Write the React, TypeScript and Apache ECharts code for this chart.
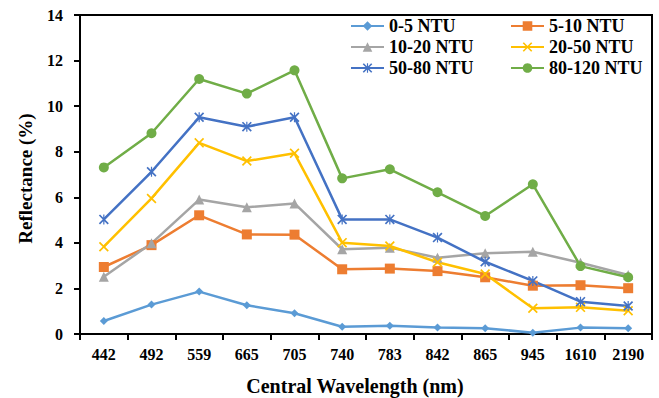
import React, { useEffect, useRef } from "react";
import * as echarts from "echarts";

// Central wavelengths of the bands (nm)
const wavelengths = ["442", "492", "559", "665", "705", "740", "783", "842", "865", "945", "1610", "2190"];

// Reflectance (%) per turbidity class
const ntu0to5 = [0.57, 1.29, 1.86, 1.26, 0.91, 0.32, 0.36, 0.28, 0.25, 0.06, 0.28, 0.25];
const ntu5to10 = [2.94, 3.9, 5.21, 4.37, 4.36, 2.84, 2.87, 2.76, 2.49, 2.12, 2.14, 2.01];
const ntu10to20 = [2.51, 3.98, 5.9, 5.56, 5.73, 3.72, 3.79, 3.35, 3.54, 3.61, 3.13, 2.59];
const ntu20to50 = [3.83, 5.95, 8.39, 7.59, 7.93, 4.01, 3.86, 3.15, 2.63, 1.13, 1.17, 1.02];
const ntu50to80 = [5.03, 7.12, 9.51, 9.1, 9.51, 5.03, 5.03, 4.23, 3.17, 2.33, 1.42, 1.23];
const ntu80to120 = [7.31, 8.81, 11.19, 10.55, 11.57, 6.83, 7.23, 6.22, 5.18, 6.57, 2.98, 2.49];

const yTicks = { min: 0, max: 14, interval: 2 };

const FONT = "'Times New Roman', 'Liberation Serif', serif";

// Marker shapes drawn as filled outlines
const crossSymbol = "path://M0,1.2 L1.2,0 L10,8.8 L8.8,10 Z M8.8,0 L10,1.2 L1.2,10 L0,8.8 Z";
const starSymbol =
  "path://M0,1.2 L1.2,0 L10,8.8 L8.8,10 Z M8.8,0 L10,1.2 L1.2,10 L0,8.8 Z M4.4,0 L5.6,0 L5.6,10 L4.4,10 Z";

const seriesDefs = [
  { name: "0-5 NTU", data: ntu0to5, color: "#5B9BD5", symbol: "diamond", size: 8 },
  { name: "5-10 NTU", data: ntu5to10, color: "#ED7D31", symbol: "rect", size: 10 },
  { name: "10-20 NTU", data: ntu10to20, color: "#A5A5A5", symbol: "triangle", size: 10 },
  { name: "20-50 NTU", data: ntu20to50, color: "#FFC000", symbol: crossSymbol, size: 10 },
  { name: "50-80 NTU", data: ntu50to80, color: "#4472C4", symbol: starSymbol, size: 10 },
  { name: "80-120 NTU", data: ntu80to120, color: "#70AD47", symbol: "circle", size: 10 },
];

const legendText = { fontFamily: FONT, fontWeight: "bold" as const, fontSize: 18, color: "#000" };

export default function App() {
  const ref = useRef<HTMLDivElement>(null);

  useEffect(() => {
    if (!ref.current) return;
    const chart = echarts.init(ref.current, null, { renderer: "svg" });
    chart.setOption({
      animation: false,
      backgroundColor: "#fff",
      textStyle: { fontFamily: FONT },
      grid: {
        left: 80,
        top: 15,
        right: 7,
        bottom: 64,
        show: true,
        borderColor: "#000",
        borderWidth: 2,
        outerBoundsMode: "none",
        containLabel: false,
      },
      legend: [
        {
          data: ["0-5 NTU", "10-20 NTU", "50-80 NTU"],
          orient: "vertical",
          left: 350,
          top: 17,
          padding: 0,
          itemGap: 3,
          itemWidth: 33,
          itemHeight: 12,
          textStyle: legendText,
        },
        {
          data: ["5-10 NTU", "20-50 NTU", "80-120 NTU"],
          orient: "vertical",
          left: 510,
          top: 17,
          padding: 0,
          itemGap: 3,
          itemWidth: 33,
          itemHeight: 12,
          textStyle: legendText,
        },
      ],
      xAxis: {
        type: "category",
        data: wavelengths,
        boundaryGap: true,
        name: "Central Wavelength (nm)",
        nameLocation: "middle",
        nameGap: 42,
        nameMoveOverlap: false,
        nameTextStyle: {
          fontFamily: FONT,
          fontWeight: "bold",
          fontSize: 20,
          color: "#000",
          padding: [0, 22, 0, 0],
        },
        axisLine: { lineStyle: { color: "#000", width: 2 } },
        axisTick: { show: true, inside: false, length: 6, alignWithLabel: false, lineStyle: { color: "#000", width: 2 } },
        axisLabel: { fontFamily: FONT, fontWeight: "bold", fontSize: 16, color: "#000", margin: 12, interval: 0 },
        splitLine: { show: false },
      },
      yAxis: {
        type: "value",
        min: yTicks.min,
        max: yTicks.max,
        interval: yTicks.interval,
        name: "Reflectance (%)",
        nameLocation: "middle",
        nameGap: 45,
        nameRotate: 90,
        nameMoveOverlap: false,
        nameTextStyle: {
          fontFamily: FONT,
          fontWeight: "bold",
          fontSize: 19,
          color: "#000",
          padding: [0, 8, 0, 0],
        },
        axisLine: { show: true, lineStyle: { color: "#000", width: 2 } },
        axisTick: { show: true, inside: false, length: 6, lineStyle: { color: "#000", width: 2 } },
        axisLabel: { fontFamily: FONT, fontWeight: "bold", fontSize: 16, color: "#000", margin: 17 },
        splitLine: { show: false },
      },
      series: seriesDefs.map((s) => ({
        name: s.name,
        type: "line",
        data: s.data,
        symbol: s.symbol,
        symbolSize: s.size,
        showSymbol: true,
        color: s.color,
        lineStyle: { color: s.color, width: 2.5 },
        itemStyle: { color: s.color },
      })),
    });
    return () => chart.dispose();
  }, []);

  return <div ref={ref} style={{ width: 659, height: 398, position: "absolute", left: 0, top: 0 }} />;
}
